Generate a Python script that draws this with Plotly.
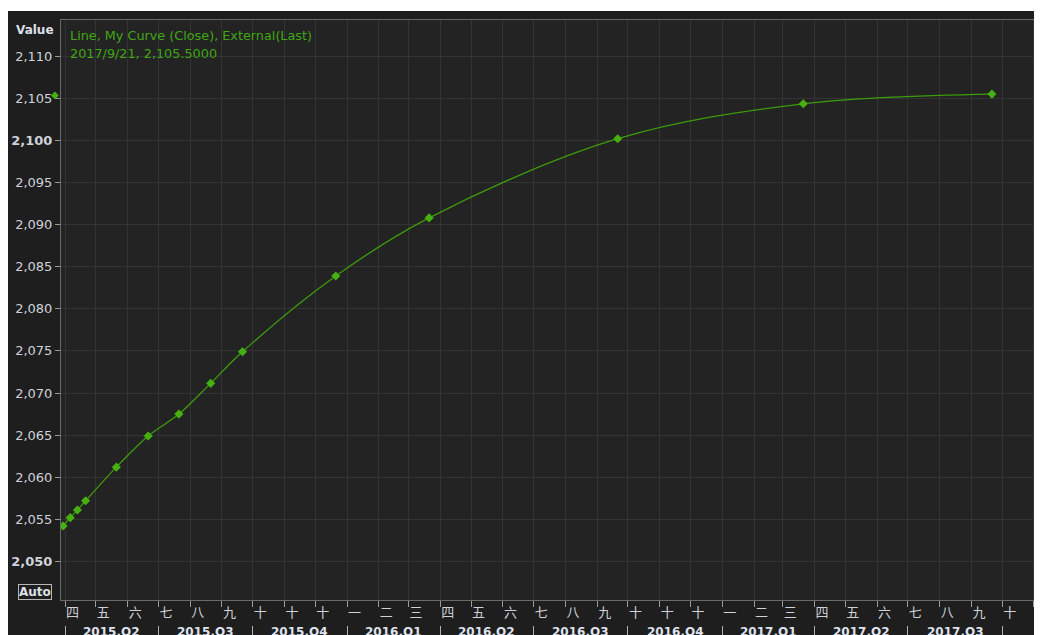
import pandas as pd
import plotly.graph_objects as go

# ---------------- data ----------------
dates = ["2015-03-30", "2015-04-06", "2015-04-13", "2015-04-21", "2015-05-21",
         "2015-06-21", "2015-07-21", "2015-08-21", "2015-09-21", "2015-12-21",
         "2016-03-21", "2016-09-21", "2017-03-21", "2017-09-21"]
values = [2054.2, 2055.2, 2056.1, 2057.2, 2061.2, 2064.9, 2067.5, 2071.15,
          2074.9, 2083.9, 2090.8, 2100.2, 2104.35, 2105.5]

y_ticks = [2050, 2055, 2060, 2065, 2070, 2075, 2080, 2085, 2090, 2095, 2100, 2105, 2110]
month_labels = ["四", "五", "六", "七", "八", "九", "十", "十", "十",
                "一", "二", "三", "四", "五", "六", "七", "八", "九", "十", "十", "十",
                "一", "二", "三", "四", "五", "六", "七", "八", "九", "十", "十"]
quarter_labels = ["2015.Q2", "2015.Q3", "2015.Q4", "2016.Q1", "2016.Q2",
                  "2016.Q3", "2016.Q4", "2017.Q1", "2017.Q2", "2017.Q3", "2017.Q4"]
series_name = "Line, My Curve (Close), External(Last)"

# ---------------- layout constants ----------------
OFF = 8                      # page offset of the figure (body margin)
W, H = 1042, 627
ML, MR, MT, MB = 61 - OFF, 8, 20 - OFF, 0
PW, PH = W - ML - MR, H - MT - MB
x_range = ["2015-03-28", "2017-11-08 20:00"]
y_range = [2045.42, 2114.3]
AXIS_BOTTOM_PX = 600         # in page pixels

def px_x(px):
    return (px - OFF - ML) / PW

def px_y(py):
    return (H - MB - (py - OFF)) / PH

GREEN_LINE = "#3c9c0c"
GREEN_MARK = "#46b011"
GREEN_TEXT = "#3fa812"
TXT = "#cfd2da"
GRID = "#343434"
AXLINE = "#6a6a6a"

month_starts = pd.date_range("2015-04-01", periods=len(month_labels), freq="MS")
q_starts = pd.date_range("2015-04-01", periods=len(quarter_labels) + 1, freq="QS")
q_mids = [q_starts[i] + (q_starts[i + 1] - q_starts[i]) / 2 for i in range(len(quarter_labels))]

fig = go.Figure()
fig.add_trace(go.Scatter(
    x=pd.to_datetime(dates), y=values, mode="lines+markers",
    line=dict(color=GREEN_LINE, width=1.3, shape="spline", smoothing=1.0),
    marker=dict(symbol="diamond", size=7, color=GREEN_MARK),
    name=series_name, showlegend=False, hoverinfo="x+y",
))

y_text = [("<b>%s</b>" % f"{v:,}") if v % 50 == 0 else f"{v:,}" for v in y_ticks]

fig.update_layout(
    width=W, height=H,
    margin=dict(l=ML, r=MR, t=MT, b=MB, pad=0),
    paper_bgcolor="#1e1e1e",
    plot_bgcolor="#232323",
    font=dict(family="DejaVu Sans", color=TXT, size=12),
    showlegend=False,
    xaxis=dict(
        type="date", range=x_range, anchor="y",
        tickvals=month_starts, ticktext=month_labels,
        ticks="outside", ticklen=6, tickcolor="#9a9a9a", tickwidth=1,
        ticklabelposition="outside right",
        tickfont=dict(family="Noto Sans CJK SC", size=13, color=TXT),
        showgrid=True, gridcolor=GRID, gridwidth=1,
        showline=True, linecolor=AXLINE, linewidth=1, mirror=True,
        zeroline=False,
    ),
    xaxis2=dict(
        type="date", range=x_range, overlaying="x", anchor="free", position=0,
        tickvals=q_starts, ticktext=["" for _ in q_starts],
        ticks="inside", ticklen=9, tickcolor="#b0b0b0", tickwidth=1,
        showgrid=False, showline=False, zeroline=False,
    ),
    yaxis=dict(
        range=y_range, domain=[px_y(AXIS_BOTTOM_PX), 1],
        tickvals=y_ticks, ticktext=y_text,
        ticks="outside", ticklen=5, tickcolor="#9a9a9a",
        tickfont=dict(family="DejaVu Sans", size=13, color=TXT),
        showgrid=True, gridcolor=GRID, gridwidth=1,
        showline=True, linecolor=AXLINE, linewidth=1,
        zeroline=False,
    ),
)

# invisible trace to activate xaxis2 (quarter separators)
fig.add_trace(go.Scatter(x=[q_starts[0]], y=[values[0]], xaxis="x2", yaxis="y",
                         mode="markers", marker=dict(opacity=0), showlegend=False,
                         hoverinfo="skip"))

annotations = []
for lab, mid in zip(quarter_labels, q_mids):
    annotations.append(dict(
        x=mid, xref="x", y=0, yref="paper", xanchor="center", yanchor="top", yshift=12,
        text="<b>%s</b>" % lab, showarrow=False,
        font=dict(family="DejaVu Sans", size=12, color="#dfe3ee"),
    ))
annotations.append(dict(x=px_x(35), xref="paper", y=px_y(30), yref="paper",
                        xanchor="center", yanchor="middle",
                        text="<b>Value</b>", showarrow=False,
                        font=dict(family="DejaVu Sans", size=12, color="#dde0e8")))
annotations.append(dict(x=px_x(35), xref="paper", y=px_y(592), yref="paper",
                        xanchor="center", yanchor="middle",
                        text="<b>Auto</b>", showarrow=False,
                        bordercolor="#b8b8b8", borderwidth=1, borderpad=0,
                        font=dict(family="DejaVu Sans", size=12, color="#dde0e8")))
last_d = pd.Timestamp(dates[-1])
annotations.append(dict(x=px_x(68), xref="paper", y=px_y(35), yref="paper",
                        xanchor="left", yanchor="middle", text=series_name, showarrow=False,
                        font=dict(family="DejaVu Sans", size=12.8, color=GREEN_TEXT)))
annotations.append(dict(x=px_x(68), xref="paper", y=px_y(53), yref="paper",
                        xanchor="left", yanchor="middle",
                        text=f"{last_d.year}/{last_d.month}/{last_d.day}, {values[-1]:,.4f}",
                        showarrow=False,
                        font=dict(family="DejaVu Sans", size=12.8, color=GREEN_TEXT)))
annotations.append(dict(x=px_x(55), xref="paper", y=values[-1], yref="y",
                        xanchor="center", yanchor="middle",
                        text="◆", showarrow=False,
                        font=dict(family="DejaVu Sans", size=10, color=GREEN_MARK)))
fig.update_layout(annotations=annotations)

# white strip above the dark chart frame (as in the source screenshot)
fig.add_shape(type="rect", xref="paper", yref="paper",
              x0=px_x(0), x1=px_x(1050), y0=px_y(11), y1=px_y(0),
              fillcolor="white", line=dict(width=0), layer="above")

fig.write_html("out.html")
